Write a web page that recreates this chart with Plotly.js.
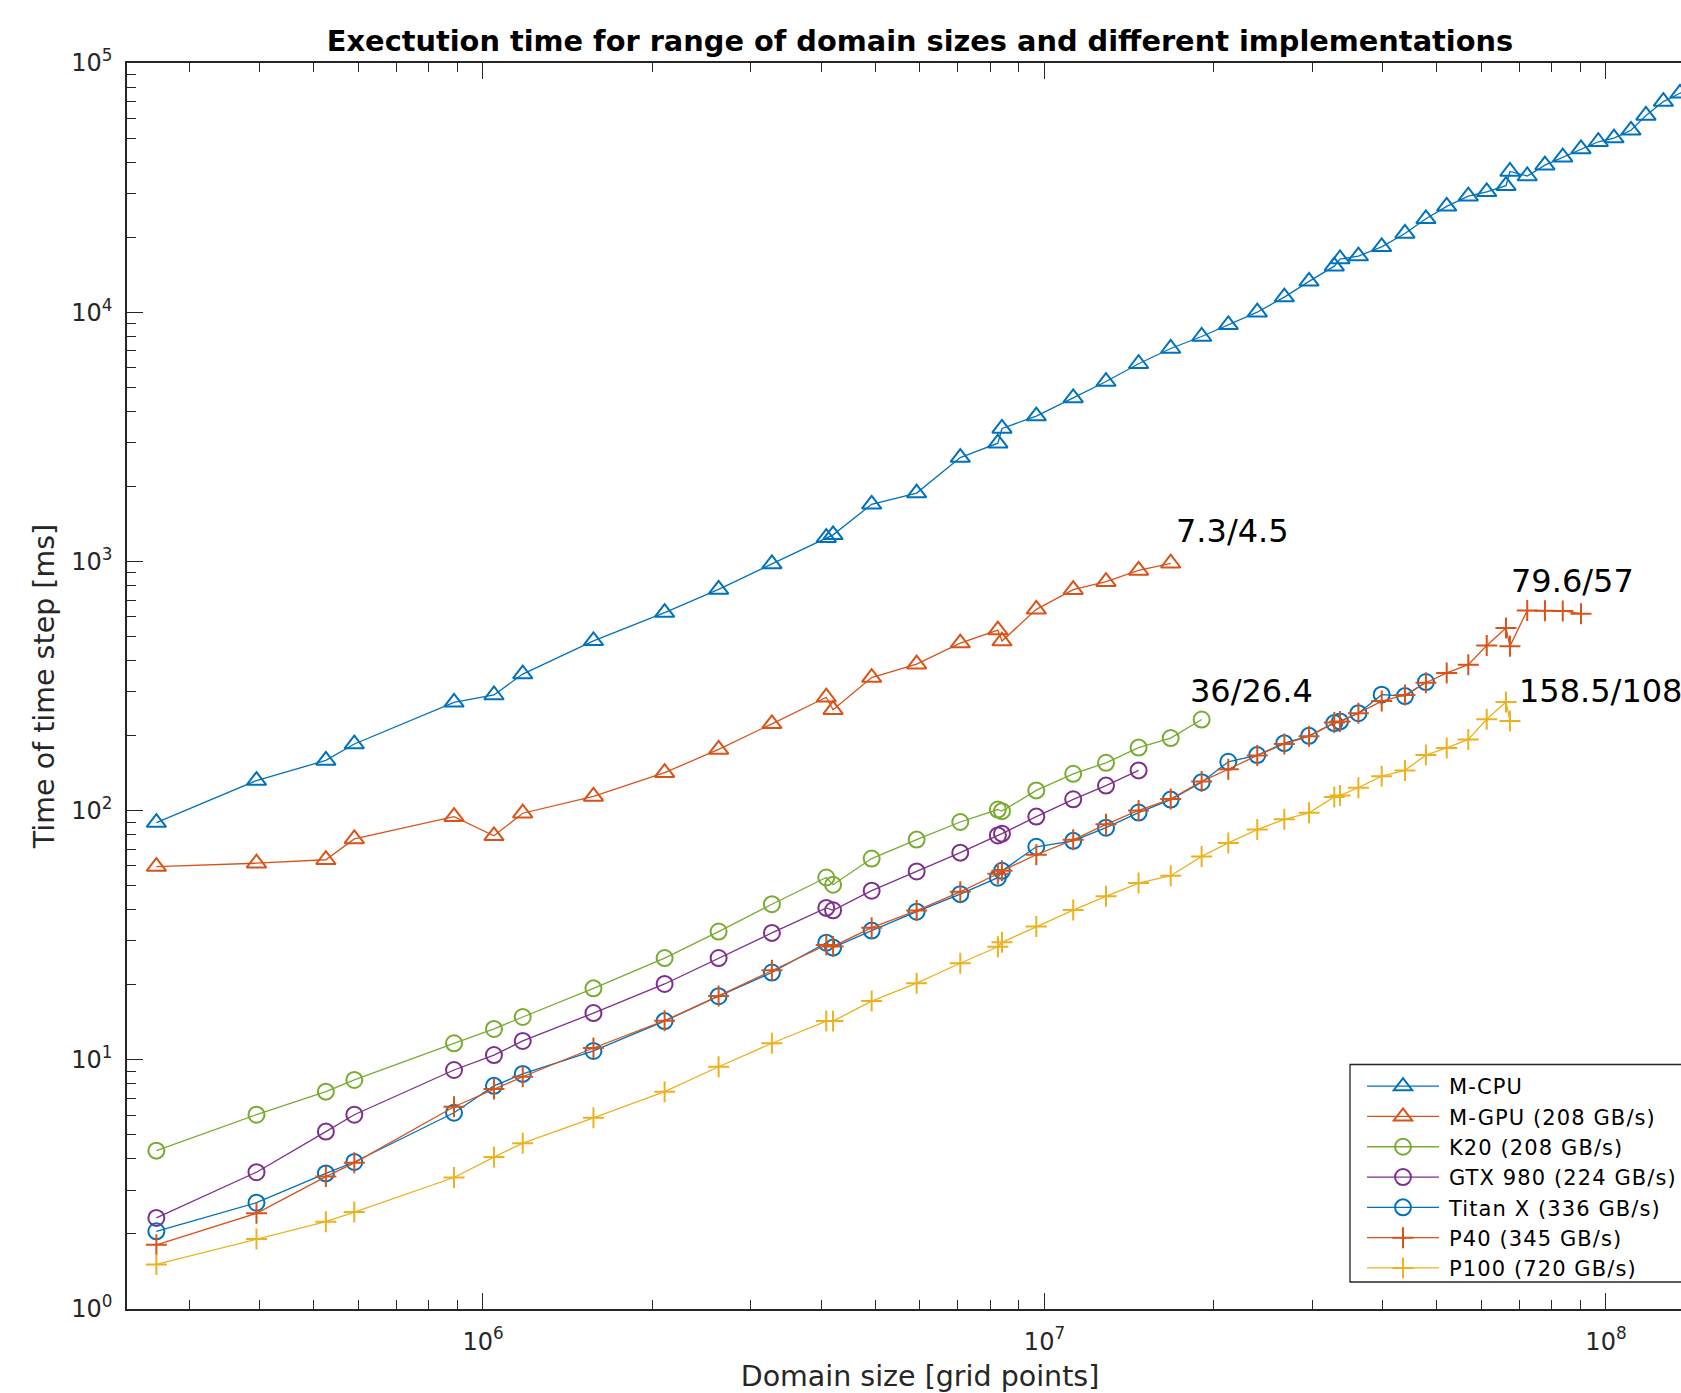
<!DOCTYPE html>
<html>
<head>
<meta charset="utf-8">
<script src="https://cdn.plot.ly/plotly-3.0.1.min.js"></script>
<style>
html,body{margin:0;padding:0;overflow:hidden;background:#ffffff;}
#chart{width:1713px;height:1393px;}
</style>
</head>
<body>
<div id="chart"></div>
<script>
// Domain sizes [grid points] shared by all implementations
const domainSizes = [2.62e5, 3.95e5, 5.25e5, 5.9e5, 8.88e5, 1.046e6, 1.177e6, 1.573e6, 2.106e6, 2.628e6,
  3.27e6, 4.087e6, 4.202e6, 4.923e6, 5.92e6, 7.08e6, 8.26e6, 8.40e6, 9.67e6, 1.125e7,
  1.287e7, 1.471e7, 1.678e7, 1.905e7, 2.125e7, 2.393e7, 2.674e7, 2.959e7, 3.282e7, 3.36e7,
  3.623e7, 3.986e7, 4.385e7, 4.779e7, 5.204e7, 5.686e7, 6.132e7, 6.636e7, 6.745e7, 7.24e7,
  7.785e7, 8.375e7, 9.026e7, 9.69e7, 1.0334e8, 1.1079e8, 1.1781e8, 1.2654e8, 1.3546e8, 1.44e8];

// Time of time step [ms]
const mCpu = [89.5, 132, 159, 185, 272, 291, 353, 480, 623, 772,
  977, 1245, 1278, 1695, 1880, 2610, 2980, 3415, 3830, 4530,
  5270, 6210, 7150, 7990, 8900, 10000, 11500, 13300, 15300, 16350,
  16800, 18300, 20700, 23700, 26600, 29200, 30400, 32200, 36700, 35200,
  38900, 41900, 45200, 48300, 50000, 53700, 61600, 70000, 75600, 81000];
const mGpu = [59.6, 61.5, 63.5, 77, 94.5, 79.2, 97.6, 114, 142, 176,
  223, 285, 254, 342, 387, 470, 530, 479, 642, 770,
  829, 920, 983];
const k20 = [4.32, 6.02, 7.45, 8.3, 11.65, 13.3, 14.85, 19.35, 25.6, 32.7,
  42.1, 53.9, 50.4, 64.2, 76.5, 90, 101, 99.5, 120.5, 140.5,
  155.5, 179, 195.5, 232];
const gtx980 = [2.32, 3.54, 5.15, 6.02, 9.1, 10.45, 11.9, 15.4, 20.15, 25.6,
  32.3, 40.7, 39.8, 47.7, 57, 67.8, 79.5, 80.8, 94.6, 111,
  126, 145];
const titanX = [2.05, 2.67, 3.5, 3.89, 6.13, 7.86, 8.78, 10.85, 14.3, 18.0,
  22.4, 29.5, 28.2, 33.0, 39.3, 46.2, 53.8, 57.3, 71.6, 75.6,
  85.4, 98.2, 110.7, 130, 157, 167, 186.5, 199.5, 224.5, 228,
  246, 292, 288, 328];
const p40 = [1.81, 2.42, 3.4, 3.86, 6.48, 7.63, 8.55, 11.15, 14.35, 18.05,
  22.85, 28.9, 28.5, 33.9, 39.7, 47.2, 55.8, 57.3, 66.5, 76.3,
  88.1, 100.2, 111.2, 131, 146.5, 166.5, 185, 199, 225.5, 228,
  246, 275, 291, 326, 357, 385, 460, 540, 457, 635,
  634, 633, 617];
const p100 = [1.51, 1.91, 2.24, 2.45, 3.37, 4.07, 4.63, 5.85, 7.45, 9.38,
  11.65, 14.3, 14.3, 17.2, 20.3, 24.4, 28.4, 29.6, 34.3, 39.9,
  45.3, 51.2, 54.8, 65.5, 74.2, 83.9, 92.3, 98, 113.5, 115,
  123.5, 137.5, 145, 167, 178.5, 193, 232.5, 273, 229];

const seriesNames = ['M-CPU', 'M-GPU (208 GB/s)', 'K20 (208 GB/s)', 'GTX 980 (224 GB/s)',
  'Titan X (336 GB/s)', 'P40 (345 GB/s)', 'P100 (720 GB/s)'];
const seriesValues = [mCpu, mGpu, k20, gtx980, titanX, p40, p100];

// Bandwidth-ratio labels
const ratioLabels = ['7.3/4.5', '36/26.4', '79.6/57', '158.5/108'];

const xTickVals = [1e6, 1e7, 1e8];
const xTickText = ['10<sup>6</sup>', '10<sup>7</sup>', '10<sup>8</sup>'];
const yTickVals = [1, 10, 100, 1000, 10000, 100000];
const yTickText = ['10<sup>0</sup>', '10<sup>1</sup>', '10<sup>2</sup>', '10<sup>3</sup>', '10<sup>4</sup>', '10<sup>5</sup>'];

// styles
const colors = ['#0072BD', '#D95319', '#77AC30', '#7E2F8E', '#0072BD', '#D95319', '#EDB120'];
const symbols = ['triangle-up-open', 'triangle-up-open', 'circle-open', 'circle-open', 'circle-open', 'cross-thin-open', 'cross-thin-open'];
const markerSizes = [17, 17, 16, 16, 16, 15, 15];

function minorTicks(lo, hi) {
  const out = [];
  for (let e = lo; e < hi; e++) {
    for (let k = 2; k <= 9; k++) out.push(k * Math.pow(10, e));
  }
  return out;
}

const FONT = 'DejaVu Sans, Liberation Sans, sans-serif';
const AX = '#262626';

const traces = seriesValues.map((vals, i) => ({
  type: 'scatter',
  mode: 'lines+markers',
  name: seriesNames[i],
  x: domainSizes.slice(0, vals.length),
  y: vals,
  line: {color: colors[i], width: 1.3},
  marker: {symbol: symbols[i], size: markerSizes[i], color: colors[i], line: {color: colors[i], width: 2}},
  cliponaxis: true
}));

const annPos = [
  {x: 1.70e7, y: 1326},
  {x: 1.798e7, y: 301},
  {x: 6.71e7, y: 835},
  {x: 6.95e7, y: 301}
];

const layout = {
  width: 1713,
  height: 1393,
  margin: {l: 127, r: 0, t: 63, b: 84, autoexpand: false},
  paper_bgcolor: '#ffffff',
  plot_bgcolor: '#ffffff',
  showlegend: true,
  title: {
    text: 'Exectution time for range of domain sizes and different implementations',
    font: {family: FONT, size: 28.8, weight: 'bold', color: '#000000'},
    xref: 'paper', x: 0.5, xanchor: 'center',
    yref: 'container', y: 1 - 41 / 1393, yanchor: 'middle'
  },
  xaxis: {
    type: 'log',
    range: [5.366, 8.1906],
    tickmode: 'array', tickvals: xTickVals, ticktext: xTickText,
    ticks: 'inside', ticklen: 16, tickwidth: 1, tickcolor: AX,
    minor: {tickmode: 'array', tickvals: minorTicks(5, 9), ticks: 'inside', ticklen: 9, tickwidth: 1, tickcolor: AX, showgrid: false},
    showline: true, linecolor: AX, linewidth: 1.5, mirror: 'ticks',
    showgrid: false, zeroline: false,
    tickfont: {family: FONT, size: 24, color: AX},
    ticklabelstandoff: 10,
    title: {text: 'Domain size [grid points]', font: {family: FONT, size: 28.5, color: AX}, standoff: 14},
    automargin: false
  },
  yaxis: {
    type: 'log',
    range: [0, 5],
    tickmode: 'array', tickvals: yTickVals, ticktext: yTickText,
    ticks: 'inside', ticklen: 16, tickwidth: 1, tickcolor: AX,
    minor: {tickmode: 'array', tickvals: minorTicks(0, 5), ticks: 'inside', ticklen: 9, tickwidth: 1, tickcolor: AX, showgrid: false},
    showline: true, linecolor: AX, linewidth: 1.5, mirror: 'ticks',
    showgrid: false, zeroline: false,
    tickfont: {family: FONT, size: 24, color: AX},
    ticklabelstandoff: 8,
    title: {text: 'Time of time step [ms]', font: {family: FONT, size: 28.5, color: AX}, standoff: 8},
    automargin: false
  },
  legend: {
    x: (1362 - 127) / 1586, y: 1 - (1066 - 63) / 1246, xanchor: 'left', yanchor: 'top',
    bgcolor: 'rgba(0,0,0,0)', borderwidth: 0,
    font: {family: FONT, size: 21, color: '#000000'},
    itemwidth: 72,
    traceorder: 'normal'
  },
  shapes: [{
    type: 'rect', xref: 'paper', yref: 'paper', layer: 'above',
    x0: (1350 - 127) / 1586, x1: (1704 - 127) / 1586,
    y0: 1 - (1282 - 63) / 1246, y1: 1 - (1064.5 - 63) / 1246,
    line: {color: AX, width: 1.3}, fillcolor: '#ffffff'
  }],
  annotations: ratioLabels.map((t, i) => ({
    text: t, x: Math.log10(annPos[i].x), y: Math.log10(annPos[i].y),
    xref: 'x', yref: 'y', xanchor: 'left', yanchor: 'middle',
    showarrow: false,
    font: {family: FONT, size: 32, color: '#000000'}
  }))
};

Plotly.newPlot('chart', traces, layout, {displayModeBar: false, responsive: false}).then(function (gd) {
  // widen legend lettering slightly and move it a little right, as in the reference legend
  gd.querySelectorAll('.legendtext').forEach(function (t) {
    t.style.letterSpacing = '1.1px';
    const x0 = parseFloat(t.getAttribute('x')) || 0;
    t.setAttribute('x', x0 + 5);
  });
  // the legend frame is drawn as a shape; let the wider legend text show fully
  gd.querySelectorAll('.legend [clip-path]').forEach(function (el) {
    el.removeAttribute('clip-path');
  });
});
</script>
</body>
</html>
